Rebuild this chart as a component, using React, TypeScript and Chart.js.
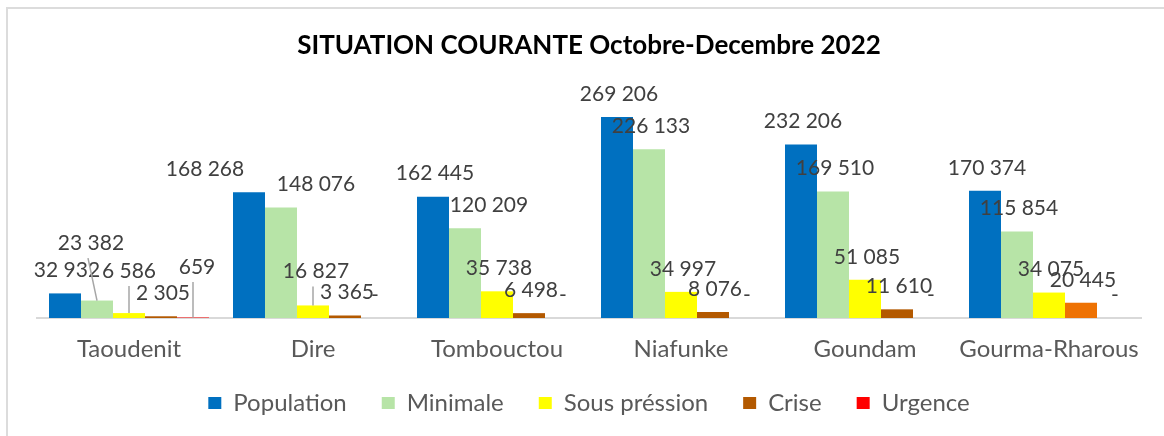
import React, { useEffect, useRef } from "react";
import { Chart, registerables } from "chart.js";

Chart.register(...registerables);

const categories = ["Taoudenit", "Dire", "Tombouctou", "Niafunke", "Goundam", "Gourma-Rharous"];
const seriesNames = ["Population", "Minimale", "Sous préssion", "Crise", "Urgence"];
const population = [32932, 168268, 162445, 269206, 232206, 170374];
const minimale = [23382, 148076, 120209, 226133, 169510, 115854];
const sousPression = [6586, 16827, 35738, 34997, 51085, 34075];
const crise = [2305, 3365, 6498, 8076, 11610, 20445];
const urgence = [659, 0, 0, 0, 0, 0];
const yMax = 300000;

const seriesColors = ["#0070C0", "#B7E4A7", "#FFFF00", "#B35900", "#FF0000"];
const criseBarColors = ["#B35900", "#B35900", "#B35900", "#B35900", "#B35900", "#EE7203"];

// manual label tweaks: key "datasetIndex-categoryIndex"
const labelTweaks: Record<string, { dx?: number; dy?: number; leader?: number }> = {
  "1-0": { dx: -8, dy: -34.5, leader: -3 },
  "2-0": { dx: -2, dy: -19, leader: 0 },
  "4-0": { dx: 2, dy: -27.5, leader: -4 },
  "0-1": { dx: -46 },
  "1-1": { dx: 33 },
  "2-1": { dx: 1, dy: -11, leader: -3 },
  "1-2": { dx: 22 },
  "4-1": { dx: -4 },
};

const fmt = (v: number) => (v === 0 ? "-" : String(v).replace(/\B(?=(\d{3})+(?!\d))/g, " "));

const dataLabelPlugin = {
  id: "dataLabels",
  afterDatasetsDraw(chart: any) {
    const ctx = chart.ctx;
    ctx.save();
    ctx.font = "21px Lato";
    ctx.textAlign = "center";
    ctx.textBaseline = "middle";
    chart.data.datasets.forEach((ds: any, i: number) => {
      const meta = chart.getDatasetMeta(i);
      meta.data.forEach((el: any, j: number) => {
        const t = labelTweaks[`${i}-${j}`] || {};
        const lx = el.x + 2 + (t.dx || 0);
        const ly = el.y - 23 + (t.dy || 0);
        if (t.leader !== undefined) {
          ctx.strokeStyle = "#A6A6A6";
          ctx.lineWidth = 1.5;
          ctx.beginPath();
          ctx.moveTo(lx + t.leader, ly + 15);
          ctx.lineTo(el.x, el.y);
          ctx.stroke();
        }
        ctx.fillStyle = "#404040";
        ctx.fillText(fmt(ds.data[j]), lx, ly);
      });
    });
    ctx.restore();
  },
};

// move the legend row up so it sits closer to the axis labels
const legendShiftPlugin = {
  id: "legendShift",
  afterLayout(chart: any) {
    const lg = chart.legend;
    if (!lg) return;
    const target = 403 - 35 - 12;
    const d = target - lg.top;
    lg.top += d;
    lg.bottom += d;
  },
};

export default function App() {
  const ref = useRef<HTMLCanvasElement>(null);
  useEffect(() => {
    if (!ref.current) return;
    const values = [population, minimale, sousPression, crise, urgence];
    const chart = new Chart(ref.current, {
      type: "bar",
      data: {
        labels: categories,
        datasets: seriesNames.map((name, i) => ({
          label: name,
          data: values[i],
          backgroundColor: i === 3 ? criseBarColors : seriesColors[i],
          borderWidth: 0,
          categoryPercentage: 160 / 184,
          barPercentage: 1,
        })),
      },
      options: {
        responsive: false,
        animation: false,
        devicePixelRatio: 1,
        layout: { padding: { left: 37, right: 23, top: 0, bottom: 3 } },
        plugins: {
          title: {
            display: true,
            text: "SITUATION COURANTE Octobre-Decembre 2022",
            color: "#000000",
            font: { family: "Lato", size: 26, weight: "bold" },
            padding: { top: 30.4, bottom: 32.4 },
          },
          legend: {
            position: "bottom",
            labels: {
              boxWidth: 13,
              boxHeight: 12,
              color: "#595959",
              font: { family: "Lato", size: 24 },
              padding: 35,
              generateLabels: () =>
                seriesNames.map((n, i) => ({
                  text: n,
                  fillStyle: seriesColors[i],
                  strokeStyle: seriesColors[i],
                  lineWidth: 0,
                  fontColor: "#595959",
                  datasetIndex: i,
                  hidden: false,
                })),
            },
          },
          tooltip: { enabled: false },
        },
        scales: {
          x: {
            grid: { display: false, drawTicks: false },
            border: { display: true, color: "#D9D9D9", width: 2 },
            ticks: {
              color: "#595959",
              font: { family: "Lato", size: 24 },
              padding: 16.6,
              maxRotation: 0,
              minRotation: 0,
              autoSkip: false,
            },
            afterFit: (s: any) => {
              s.height = 46;
            },
          },
          y: { display: false, min: 0, max: yMax },
        },
      },
      plugins: [dataLabelPlugin, legendShiftPlugin],
    } as any);
    return () => chart.destroy();
  }, []);
  return (
    <div style={{ position: "absolute", left: 0, top: 0, width: 1164, height: 436, overflow: "hidden", background: "#fff" }}>
      <div
        style={{
          position: "absolute",
          left: 6,
          top: 7,
          width: 1300,
          height: 600,
          borderTop: "2px solid #DCDCDC",
          borderLeft: "2px solid #DCDCDC",
        }}
      />
      <canvas ref={ref} width={1164} height={436} style={{ position: "absolute", left: 0, top: 0, width: 1164, height: 436 }} />
    </div>
  );
}
